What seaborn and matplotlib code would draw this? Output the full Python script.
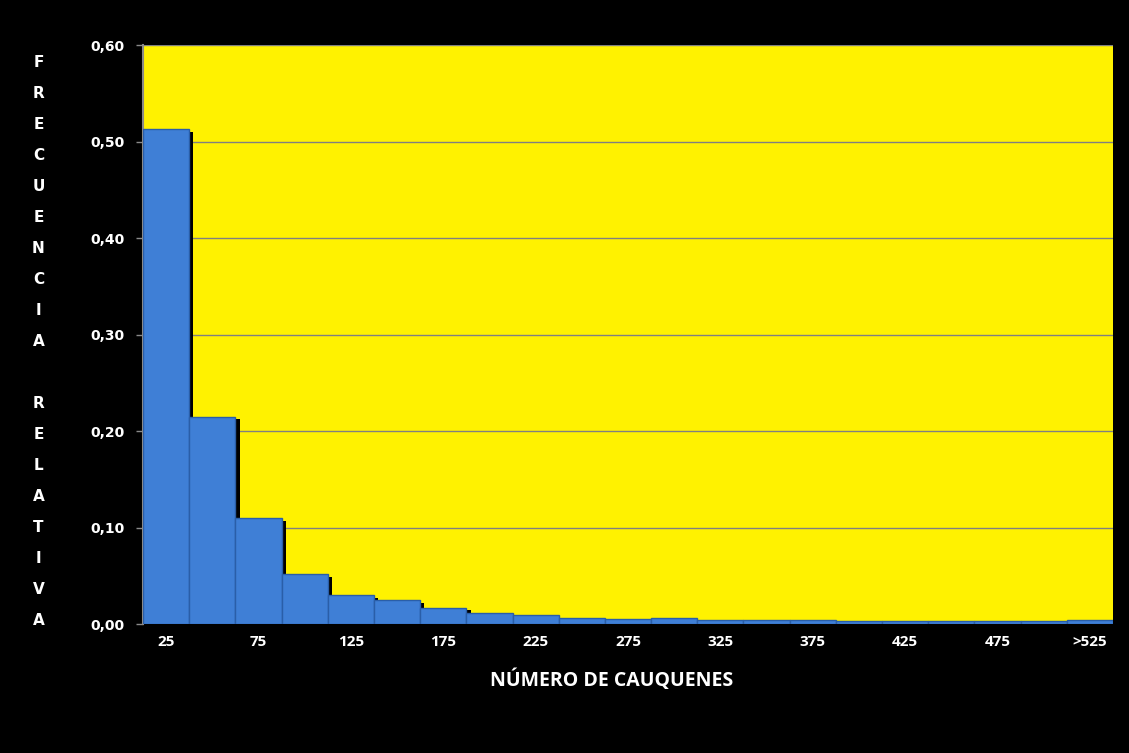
import matplotlib
matplotlib.use("Agg")
import matplotlib.pyplot as plt
import matplotlib.patheffects as pe
from matplotlib.ticker import FuncFormatter, MultipleLocator
import seaborn as sns
import pandas as pd

# Class marks (number of cauquenes) and their relative frequency
categories = ["25", "50", "75", "100", "125", "150", "175", "200", "225", "250",
              "275", "300", "325", "350", "375", "400", "425", "450", "475", "500",
              ">525"]
rel_freq = [0.513, 0.215, 0.110, 0.052, 0.030, 0.025, 0.017, 0.011, 0.009, 0.006,
            0.005, 0.006, 0.004, 0.004, 0.004, 0.003, 0.003, 0.003, 0.003, 0.003,
            0.004]
shown_labels = ["25", "75", "125", "175", "225", "275", "325", "375", "425", "475", ">525"]

df = pd.DataFrame({"clase": categories, "frecuencia": rel_freq})

sns.set_theme(style="white")
plt.rcParams["font.family"] = ["Open Sans", "DejaVu Sans"]

fig = plt.figure(figsize=(11.29, 7.53), dpi=100, facecolor="black")
ax = fig.add_axes([0.1267, 0.1713, 0.8591, 0.7689])
ax.set_facecolor("#fff200")

sns.barplot(data=df, x="clase", y="frecuencia", ax=ax, color="#3f7fd6",
            saturation=1, width=1.0, edgecolor="#2a5ea8", linewidth=1.0, zorder=3)
for bar in ax.patches:
    bar.set_path_effects([
        pe.SimplePatchShadow(offset=(3, -2), shadow_rgbFace="black", alpha=1.0),
        pe.Normal(),
    ])

ax.set_ylim(0, 0.60)
ax.set_xlim(-0.5, len(categories) - 0.5)
ax.yaxis.set_major_locator(MultipleLocator(0.10))
ax.yaxis.set_major_formatter(FuncFormatter(lambda v, _: f"{v:.2f}".replace(".", ",")))
ax.grid(axis="y", color="#808080", linewidth=1.0, zorder=0)
ax.set_axisbelow(True)

ax.set_xticks(range(0, len(categories), 2))
ax.set_xticklabels(shown_labels)
ax.tick_params(axis="x", length=0, pad=8, labelsize=11, colors="white")
ax.tick_params(axis="y", length=5, width=1, color="#8a8a8a", pad=8,
               labelsize=10, labelcolor="white", left=True)
for lbl in ax.get_xticklabels():
    lbl.set_fontweight("bold")
for lbl in ax.get_yticklabels():
    lbl.set_fontweight("bold")
    lbl.set_family("DejaVu Sans")

for side in ["top", "right", "bottom"]:
    ax.spines[side].set_visible(False)
ax.spines["left"].set_color("#8a8a8a")
ax.spines["left"].set_linewidth(1.5)

ax.set_xlabel("")
ax.set_ylabel("")

fig.text(0.542, 1 - 680 / 753, "NÚMERO DE CAUQUENES", color="white",
         fontsize=14, fontweight="bold", ha="center", va="center")

ylabel = "\n".join(list("FRECUENCIA") + [" "] + list("RELATIVA"))
fig.text(0.034, 1 - 341.5 / 753, ylabel, color="white", fontsize=11,
         fontweight="bold", family="DejaVu Sans", ha="center", va="center",
         linespacing=2.33)

fig.savefig("out.png", dpi=100, facecolor="black")
